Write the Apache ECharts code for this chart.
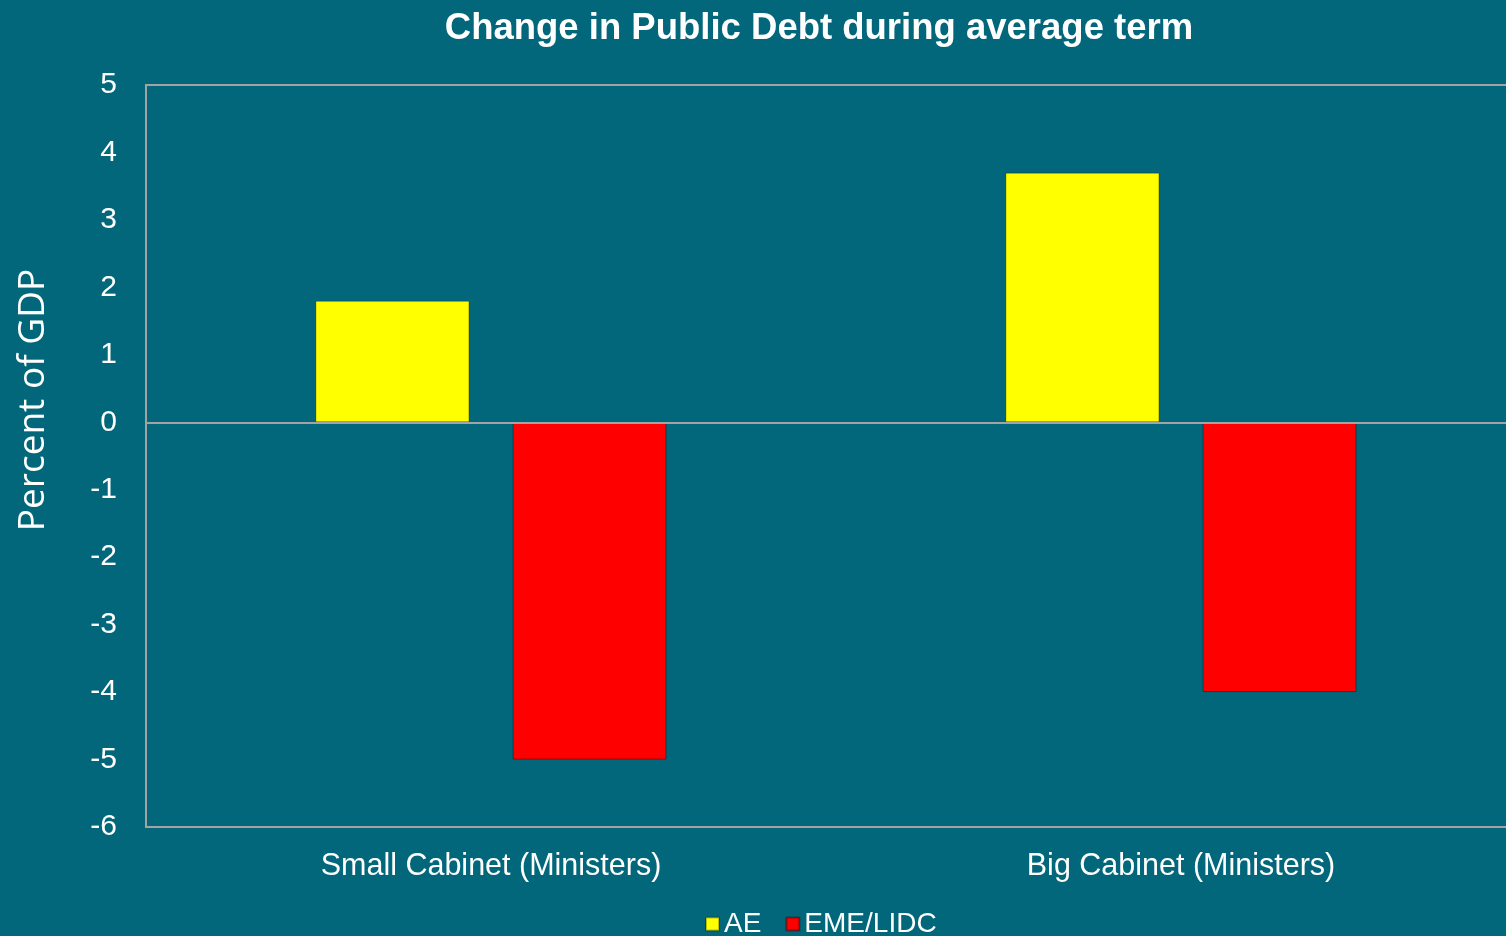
<!DOCTYPE html>
<html>
<head>
<meta charset="utf-8">
<title>Change in Public Debt during average term</title>
<script src="https://cdn.jsdelivr.net/npm/echarts@6/dist/echarts.min.js"></script>
<style>
  html, body { margin: 0; padding: 0; background: #02677b; }
  #chart { width: 1506px; height: 936px; }
</style>
</head>
<body>
<div id="chart"></div>
<script>
// Cabinet size groups on the horizontal axis
const categories = ['Small Cabinet (Ministers)', 'Big Cabinet (Ministers)'];
// Change in public debt, percent of GDP
const aeValues = [1.8, 3.7];
const emeValues = [-5.0, -4.0];
const seriesNames = ['AE', 'EME/LIDC'];
const yTicks = { min: -6, max: 5, interval: 1 };

const chart = echarts.init(document.getElementById('chart'));
const labelFont = 'Liberation Sans, Arial, sans-serif';

chart.setOption({
  backgroundColor: '#02677b',
  animation: false,
  title: {
    text: 'Change in Public Debt during average term',
    left: 814,
    top: 5,
    textAlign: 'center',
    textStyle: { color: '#ffffff', fontSize: 36.5, fontWeight: 'bold', fontFamily: labelFont }
  },
  legend: {
    bottom: -7,
    left: 700,
    icon: 'rect',
    itemWidth: 13,
    itemHeight: 13,
    itemGap: 24,
    data: seriesNames,
    textStyle: { color: '#ffffff', fontSize: 28, fontFamily: labelFont }
  },
  grid: {
    left: 146,
    top: 85,
    width: 1380,
    height: 742,
    outerBoundsMode: 'none',
    containLabel: false,
    show: true,
    borderColor: '#a3a3a3',
    borderWidth: 2,
    backgroundColor: 'transparent'
  },
  xAxis: {
    type: 'category',
    data: categories,
    axisLine: { show: false, onZero: false },
    axisTick: { show: false },
    axisLabel: { color: '#ffffff', fontSize: 30.5, fontFamily: labelFont, margin: 24 }
  },
  yAxis: {
    type: 'value',
    min: yTicks.min,
    max: yTicks.max,
    interval: yTicks.interval,
    name: 'Percent of GDP',
    nameLocation: 'middle',
    nameGap: 94,
    nameTextStyle: { color: '#ffffff', fontSize: 37, fontFamily: 'Open Sans, sans-serif', padding: [0, 0, 0, 112] },
    axisLine: { show: false },
    axisTick: { show: false },
    splitLine: { show: false },
    axisLabel: { color: '#ffffff', fontSize: 30, fontFamily: labelFont, margin: 29 }
  },
  series: [
    {
      name: seriesNames[0],
      type: 'bar',
      data: aeValues,
      barWidth: 154,
      barGap: '28%',
      itemStyle: { color: '#ffff00', borderColor: 'rgba(0,0,0,0.25)', borderWidth: 1 },
      markLine: {
        silent: true,
        symbol: 'none',
        label: { show: false },
        lineStyle: { color: '#a3a3a3', width: 2, type: 'solid' },
        data: [{ yAxis: 0 }]
      }
    },
    {
      name: seriesNames[1],
      type: 'bar',
      data: emeValues,
      barWidth: 154,
      barGap: '28%',
      itemStyle: { color: '#ff0000', borderColor: 'rgba(0,0,0,0.35)', borderWidth: 1 }
    }
  ]
});
</script>
</body>
</html>
